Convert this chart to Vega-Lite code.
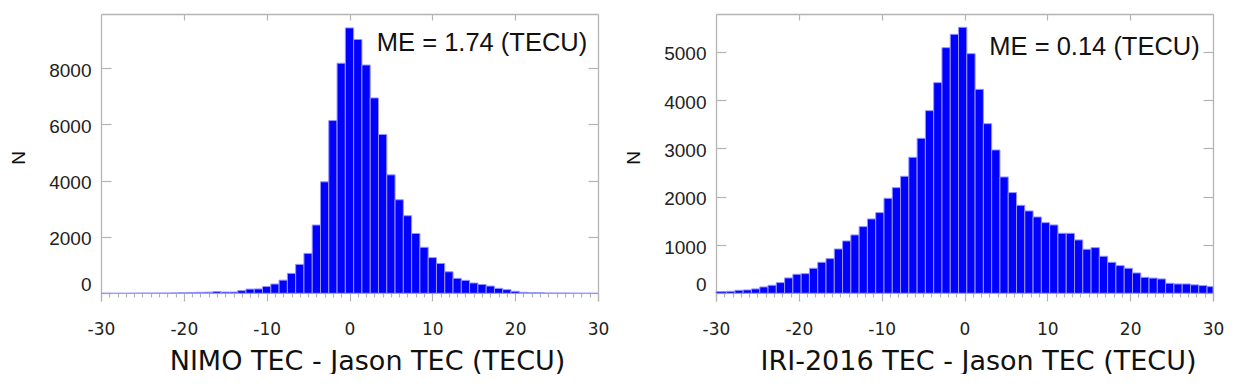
{
  "$schema": "https://vega.github.io/schema/vega-lite/v6.json",
  "padding": {"left": 9, "top": 13, "right": 0, "bottom": 0},
  "spacing": 15,
  "config": {
    "view": {"stroke": null},
    "axis": {"grid": false, "domainColor": "#b4b4b4", "tickColor": "#b4b4b4", "domainWidth": 1.3, "tickWidth": 1.2, "labelColor": "#222222", "titleColor": "#111111", "titleFontWeight": "normal"}
  },
  "datasets": {
    "nimo": [
      {"lo": -30, "hi": -29.5, "n": 0}, {"lo": -29.5, "hi": -28.5, "n": 0}, {"lo": -28.5, "hi": -27.5, "n": 0},
      {"lo": -27.5, "hi": -26.5, "n": 2}, {"lo": -26.5, "hi": -25.5, "n": 5}, {"lo": -25.5, "hi": -24.5, "n": 8},
      {"lo": -24.5, "hi": -23.5, "n": 8}, {"lo": -23.5, "hi": -22.5, "n": 10}, {"lo": -22.5, "hi": -21.5, "n": 12},
      {"lo": -21.5, "hi": -20.5, "n": 15}, {"lo": -20.5, "hi": -19.5, "n": 22}, {"lo": -19.5, "hi": -18.5, "n": 30},
      {"lo": -18.5, "hi": -17.5, "n": 35}, {"lo": -17.5, "hi": -16.5, "n": 40}, {"lo": -16.5, "hi": -15.5, "n": 60},
      {"lo": -15.5, "hi": -14.5, "n": 45}, {"lo": -14.5, "hi": -13.5, "n": 45}, {"lo": -13.5, "hi": -12.5, "n": 95},
      {"lo": -12.5, "hi": -11.5, "n": 150}, {"lo": -11.5, "hi": -10.5, "n": 155}, {"lo": -10.5, "hi": -9.5, "n": 240},
      {"lo": -9.5, "hi": -8.5, "n": 330}, {"lo": -8.5, "hi": -7.5, "n": 468}, {"lo": -7.5, "hi": -6.5, "n": 708},
      {"lo": -6.5, "hi": -5.5, "n": 1027}, {"lo": -5.5, "hi": -4.5, "n": 1418}, {"lo": -4.5, "hi": -3.5, "n": 2425},
      {"lo": -3.5, "hi": -2.5, "n": 3958}, {"lo": -2.5, "hi": -1.5, "n": 6135}, {"lo": -1.5, "hi": -0.5, "n": 8170},
      {"lo": -0.5, "hi": 0.5, "n": 9425}, {"lo": 0.5, "hi": 1.5, "n": 9014}, {"lo": 1.5, "hi": 2.5, "n": 8106},
      {"lo": 2.5, "hi": 3.5, "n": 6938}, {"lo": 3.5, "hi": 4.5, "n": 5640}, {"lo": 4.5, "hi": 5.5, "n": 4206},
      {"lo": 5.5, "hi": 6.5, "n": 3322}, {"lo": 6.5, "hi": 7.5, "n": 2755}, {"lo": 7.5, "hi": 8.5, "n": 2124},
      {"lo": 8.5, "hi": 9.5, "n": 1634}, {"lo": 9.5, "hi": 10.5, "n": 1267}, {"lo": 10.5, "hi": 11.5, "n": 1062},
      {"lo": 11.5, "hi": 12.5, "n": 765}, {"lo": 12.5, "hi": 13.5, "n": 531}, {"lo": 13.5, "hi": 14.5, "n": 460},
      {"lo": 14.5, "hi": 15.5, "n": 366}, {"lo": 15.5, "hi": 16.5, "n": 315}, {"lo": 16.5, "hi": 17.5, "n": 258},
      {"lo": 17.5, "hi": 18.5, "n": 177}, {"lo": 18.5, "hi": 19.5, "n": 130}, {"lo": 19.5, "hi": 20.5, "n": 71},
      {"lo": 20.5, "hi": 21.5, "n": 35}, {"lo": 21.5, "hi": 22.5, "n": 24}, {"lo": 22.5, "hi": 23.5, "n": 20},
      {"lo": 23.5, "hi": 24.5, "n": 12}, {"lo": 24.5, "hi": 25.5, "n": 10}, {"lo": 25.5, "hi": 26.5, "n": 10},
      {"lo": 26.5, "hi": 27.5, "n": 5}, {"lo": 27.5, "hi": 28.5, "n": 3}, {"lo": 28.5, "hi": 29.5, "n": 2},
      {"lo": 29.5, "hi": 30, "n": 0}
    ],
    "iri": [
      {"lo": -30, "hi": -28.72, "n": 35}, {"lo": -28.72, "hi": -27.72, "n": 41}, {"lo": -27.72, "hi": -26.72, "n": 62},
      {"lo": -26.72, "hi": -25.72, "n": 69}, {"lo": -25.72, "hi": -24.72, "n": 90}, {"lo": -24.72, "hi": -23.72, "n": 131},
      {"lo": -23.72, "hi": -22.72, "n": 166}, {"lo": -22.72, "hi": -21.72, "n": 221}, {"lo": -21.72, "hi": -20.72, "n": 318},
      {"lo": -20.72, "hi": -19.72, "n": 394}, {"lo": -19.72, "hi": -18.72, "n": 407}, {"lo": -18.72, "hi": -17.72, "n": 518},
      {"lo": -17.72, "hi": -16.72, "n": 642}, {"lo": -16.72, "hi": -15.72, "n": 718}, {"lo": -15.72, "hi": -14.72, "n": 918},
      {"lo": -14.72, "hi": -13.72, "n": 1084}, {"lo": -13.72, "hi": -12.72, "n": 1209}, {"lo": -12.72, "hi": -11.72, "n": 1381},
      {"lo": -11.72, "hi": -10.72, "n": 1540}, {"lo": -10.72, "hi": -9.72, "n": 1671}, {"lo": -9.72, "hi": -8.72, "n": 1968},
      {"lo": -8.72, "hi": -7.72, "n": 2189}, {"lo": -7.72, "hi": -6.72, "n": 2424}, {"lo": -6.72, "hi": -5.72, "n": 2818},
      {"lo": -5.72, "hi": -4.72, "n": 3211}, {"lo": -4.72, "hi": -3.72, "n": 3784}, {"lo": -3.72, "hi": -2.72, "n": 4365},
      {"lo": -2.72, "hi": -1.72, "n": 5090}, {"lo": -1.72, "hi": -0.72, "n": 5366}, {"lo": -0.72, "hi": 0.28, "n": 5511},
      {"lo": 0.28, "hi": 1.28, "n": 4965}, {"lo": 1.28, "hi": 2.28, "n": 4226}, {"lo": 2.28, "hi": 3.28, "n": 3515},
      {"lo": 3.28, "hi": 4.28, "n": 2970}, {"lo": 4.28, "hi": 5.28, "n": 2410}, {"lo": 5.28, "hi": 6.28, "n": 2086},
      {"lo": 6.28, "hi": 7.28, "n": 1823}, {"lo": 7.28, "hi": 8.28, "n": 1706}, {"lo": 8.28, "hi": 9.28, "n": 1581},
      {"lo": 9.28, "hi": 10.28, "n": 1464}, {"lo": 10.28, "hi": 11.28, "n": 1416}, {"lo": 11.28, "hi": 12.28, "n": 1243},
      {"lo": 12.28, "hi": 13.28, "n": 1243}, {"lo": 13.28, "hi": 14.28, "n": 1105}, {"lo": 14.28, "hi": 15.28, "n": 912},
      {"lo": 15.28, "hi": 16.28, "n": 946}, {"lo": 16.28, "hi": 17.28, "n": 767}, {"lo": 17.28, "hi": 18.28, "n": 642},
      {"lo": 18.28, "hi": 19.28, "n": 573}, {"lo": 19.28, "hi": 20.28, "n": 518}, {"lo": 20.28, "hi": 21.28, "n": 421},
      {"lo": 21.28, "hi": 22.28, "n": 331}, {"lo": 22.28, "hi": 23.28, "n": 315}, {"lo": 23.28, "hi": 24.28, "n": 297},
      {"lo": 24.28, "hi": 25.28, "n": 207}, {"lo": 25.28, "hi": 26.28, "n": 193}, {"lo": 26.28, "hi": 27.28, "n": 193},
      {"lo": 27.28, "hi": 28.28, "n": 175}, {"lo": 28.28, "hi": 29.28, "n": 159}, {"lo": 29.28, "hi": 30, "n": 138}
    ],
    "nimoNote": [{"x": 3.3, "y": 8600, "label": "ME = 1.74 (TECU)"}],
    "iriNote": [{"x": 3.0, "y": 4930, "label": "ME = 0.14 (TECU)"}]
  },
  "hconcat": [
    {
      "width": 497, "height": 287,
      "resolve": {"axis": {"x": "independent", "y": "independent"}},
      "layer": [
        {
          "data": {"name": "nimo"},
          "mark": {"type": "bar", "fill": "#0000ff", "stroke": "#9494ff", "strokeWidth": 1},
          "encoding": {
            "x": {"field": "lo", "type": "quantitative", "scale": {"domain": [-30, 30], "nice": false},
              "axis": {"orient": "bottom", "offset": -8, "domain": false,
                "values": [-30,-29,-28,-27,-26,-25,-24,-23,-22,-21,-20,-19,-18,-17,-16,-15,-14,-13,-12,-11,-10,-9,-8,-7,-6,-5,-4,-3,-2,-1,0,1,2,3,4,5,6,7,8,9,10,11,12,13,14,15,16,17,18,19,20,21,22,23,24,25,26,27,28,29,30],
                "tickSize": {"condition": {"test": "datum.value % 10 === 0", "value": 8}, "value": 4},
                "labelExpr": "datum.value % 10 === 0 ? '' + datum.value : ''",
                "labelFont": "DejaVu Sans", "labelFontSize": 17, "labelPadding": 20, "labelFlush": false,
                "title": "NIMO TEC - Jason TEC (TECU)", "titleFont": "DejaVu Sans", "titleFontSize": 27, "titlePadding": 11, "titleX": 266}},
            "x2": {"field": "hi"},
            "y": {"field": "n", "type": "quantitative", "scale": {"domain": [-273, 9918], "nice": false, "zero": false},
              "axis": {"orient": "left", "values": [0, 2000, 4000, 6000, 8000], "format": "d", "tickSize": -10,
                "labelOffset": {"condition": {"test": "datum.value === 0", "value": -9}, "value": 2},
                "labelFont": "Liberation Sans", "labelFontSize": 19, "labelPadding": 20,
                "title": "N", "titleFont": "Liberation Sans", "titleFontSize": 19, "titlePadding": 20}},
            "y2": {"datum": 0}
          }
        },
        {
          "data": {"name": "nimoNote"},
          "mark": {"type": "text", "align": "left", "baseline": "alphabetic", "font": "Liberation Sans", "fontSize": 25.5, "color": "#111111"},
          "encoding": {
            "x": {"field": "x", "type": "quantitative", "scale": {"domain": [-30, 30], "nice": false},
              "axis": {"orient": "top", "values": [-20, -10, 0, 10, 20], "tickSize": -6, "labels": false, "title": null}},
            "y": {"field": "y", "type": "quantitative", "scale": {"domain": [-273, 9918], "nice": false, "zero": false},
              "axis": {"orient": "right", "values": [0, 2000, 4000, 6000, 8000], "tickSize": -10, "labels": false, "title": null}},
            "text": {"field": "label"}
          }
        }
      ]
    },
    {
      "width": 497, "height": 287,
      "resolve": {"axis": {"x": "independent", "y": "independent"}},
      "layer": [
        {
          "data": {"name": "iri"},
          "mark": {"type": "bar", "fill": "#0000ff", "stroke": "#9494ff", "strokeWidth": 1},
          "encoding": {
            "x": {"field": "lo", "type": "quantitative", "scale": {"domain": [-30, 30], "nice": false},
              "axis": {"orient": "bottom", "offset": -8, "domain": false,
                "values": [-30,-29,-28,-27,-26,-25,-24,-23,-22,-21,-20,-19,-18,-17,-16,-15,-14,-13,-12,-11,-10,-9,-8,-7,-6,-5,-4,-3,-2,-1,0,1,2,3,4,5,6,7,8,9,10,11,12,13,14,15,16,17,18,19,20,21,22,23,24,25,26,27,28,29,30],
                "tickSize": {"condition": {"test": "datum.value % 10 === 0", "value": 8}, "value": 4},
                "labelExpr": "datum.value % 10 === 0 ? '' + datum.value : ''",
                "labelFont": "DejaVu Sans", "labelFontSize": 17, "labelPadding": 20, "labelFlush": false,
                "title": "IRI-2016 TEC - Jason TEC (TECU)", "titleFont": "DejaVu Sans", "titleFontSize": 27, "titlePadding": 11, "titleX": 262}},
            "x2": {"field": "hi"},
            "y": {"field": "n", "type": "quantitative", "scale": {"domain": [-160, 5787], "nice": false, "zero": false},
              "axis": {"orient": "left", "values": [0, 1000, 2000, 3000, 4000, 5000], "format": "d", "tickSize": -10,
                "labelOffset": {"condition": {"test": "datum.value === 0", "value": -9}, "value": 2},
                "labelFont": "Liberation Sans", "labelFontSize": 19, "labelPadding": 20,
                "title": "N", "titleFont": "Liberation Sans", "titleFontSize": 19, "titlePadding": 20}},
            "y2": {"datum": 0}
          }
        },
        {
          "data": {"name": "iriNote"},
          "mark": {"type": "text", "align": "left", "baseline": "alphabetic", "font": "Liberation Sans", "fontSize": 25.5, "color": "#111111"},
          "encoding": {
            "x": {"field": "x", "type": "quantitative", "scale": {"domain": [-30, 30], "nice": false},
              "axis": {"orient": "top", "values": [-20, -10, 0, 10, 20], "tickSize": -6, "labels": false, "title": null}},
            "y": {"field": "y", "type": "quantitative", "scale": {"domain": [-160, 5787], "nice": false, "zero": false},
              "axis": {"orient": "right", "values": [0, 1000, 2000, 3000, 4000, 5000], "tickSize": -10, "labels": false, "title": null}},
            "text": {"field": "label"}
          }
        }
      ]
    }
  ]
}
